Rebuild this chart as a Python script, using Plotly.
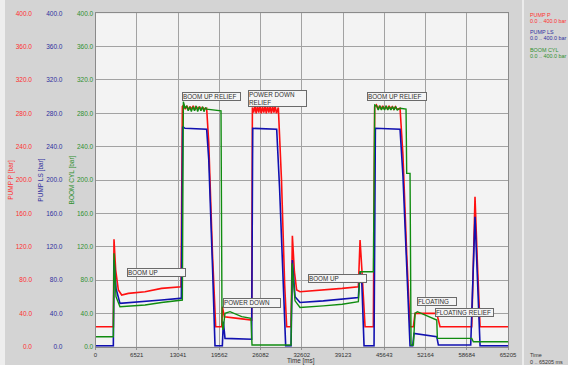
import plotly.graph_objects as go

# ---------------------------------------------------------------- data
# PUMP P [bar]
t_pump_p = [
    0, 2820, 2925, 3190, 3610, 4140, 5200, 7830, 10450, 13360, 13520,
    13730, 13950, 14200, 14450, 14700, 14950, 15200, 15450, 15700, 15950, 16200, 16450, 16700, 16950, 17200, 17570,
    17900, 18500, 19000, 19950, 20050, 20370, 22500, 24690,
    24800, 25000, 25200, 25400, 25600, 25800, 26000, 26200, 26400, 26600, 26800, 27000, 27200, 27400, 27600, 27800,
    28000, 28200, 28400, 28600, 28900,
    29400, 29900, 30220, 30910, 31120, 31440, 31800, 32330, 36000, 39000, 41550,
    41820, 42130, 42610, 43920,
    44130, 44400, 44650, 44900, 45150, 45400, 45650, 45900, 46150, 46400, 46650, 46900, 47150, 47400, 47650, 48140,
    48600, 49200, 49720, 50250, 50510, 53940, 54460, 59470, 59730, 59990, 60370, 60790, 65205,
]
pump_p = [
    24, 24, 129, 92, 68, 62, 64, 66, 70, 72, 72,
    288, 290, 285, 289, 284, 288, 285, 289, 284, 288, 285, 288, 284, 287, 285, 286,
    245, 110, 24, 24, 48, 36, 34, 32,
    287, 281, 289, 280, 289, 281, 289, 280, 288, 281, 289, 280, 289, 281, 288, 280,
    289, 281, 289, 280, 287,
    200, 75, 24, 24, 133, 90, 68, 66, 68, 70, 72,
    128, 90, 24, 24,
    288, 290, 285, 289, 285, 289, 285, 288, 285, 289, 285, 288, 285, 288, 285, 286,
    230, 110, 24, 24, 40, 40, 24, 24, 120, 180, 100, 24, 24,
]

# PUMP LS [bar]
t_pump_ls = [
    0, 2820, 2925, 3240, 3870, 7830, 10450, 13360, 13570, 13780, 14150, 17570,
    17900, 18500, 18890, 20050, 20210, 20470, 24690, 24850, 28640, 29100, 29700, 30060,
    30910, 31120, 31540, 32330, 36000, 39000, 41550, 41820, 42080, 42450, 44030, 44240,
    48140, 48600, 49200, 49720, 50140, 50350, 53940, 54200, 59310, 59990, 60790, 65205,
]
pump_ls = [
    1, 1, 104, 70, 52, 54, 56, 58, 58, 264, 262, 261,
    225, 95, 1, 1, 30, 10, 9, 262, 261, 190, 60, 1,
    1, 104, 60, 53, 55, 57, 59, 90, 80, 1, 1, 262,
    261, 205, 85, 1, 1, 16, 12, 2, 2, 156, 1, 1,
]

# BOOM CYL [bar]
t_boom_cyl = [
    0, 2820, 2925, 3240, 3870, 7830, 10450, 13360, 13730, 13890,
    14150, 14400, 14650, 14900, 15150, 15400, 15650, 15900, 16150, 16400, 16650, 16900, 17150, 17400, 17570,
    19840, 20000, 20160, 20470, 21260, 23110, 24580, 24740, 30910, 31070, 31540, 32330, 36000, 39000, 41550, 41820, 43920,
    44130, 44450, 44700, 44950, 45200, 45450, 45700, 45950, 46200, 46450, 46700, 46950, 47200, 47450, 47700, 48140,
    49090, 49190, 49720, 49880, 50250, 50510, 50880, 53940, 54040, 59470, 59730, 65205,
]
boom_cyl = [
    12, 12, 112, 60, 48, 50, 53, 56, 56, 294,
    286, 289, 283, 288, 282, 288, 283, 289, 282, 288, 283, 288, 282, 287, 285,
    283, 30, 20, 40, 42, 36, 34, 2, 2, 100, 55, 47, 49, 51, 54, 90, 90,
    290, 289, 284, 289, 284, 288, 284, 289, 284, 288, 284, 288, 284, 288, 284, 286,
    285, 208, 208, 2, 2, 40, 42, 32, 10, 10, 6, 6,
]

time_ticks = [0, 6521, 13041, 19562, 26082, 32602, 39123, 45643, 52164, 58684, 65205]
time_tick_labels = ["0", "6521", "13041", "19562", "26082", "32602", "39123", "45643", "52164", "58684", "65205"]
bar_ticks = [0, 40, 80, 120, 160, 200, 240, 280, 320, 360, 400]
bar_tick_labels = ["0.0", "40.0", "80.0", "120.0", "160.0", "200.0", "240.0", "280.0", "320.0", "360.0", "400.0"]

# event markers: (text, time [ms], pressure [bar], box width px, box height px)
events = [
    ("BOOM UP", 5027, 94.8, 57, 7),
    ("BOOM UP RELIEF", 13626, 306, 57, 7),
    ("POWER DOWN<br>RELIEF", 24058, 308, 57, 15),
    ("POWER DOWN", 20201, 58, 56, 8),
    ("BOOM UP", 33637, 86.9, 57, 7),
    ("BOOM UP RELIEF", 42869, 305.3, 58, 7),
    ("FLOATING", 50772, 60, 38, 7),
    ("FLOATING RELIEF", 53665, 46.1, 57, 7),
]

# ---------------------------------------------------------------- styling
W, H = 568, 365
RED, BLUE, GREEN = "#ff1010", "#1010b0", "#108c10"
RED_T, BLUE_T, GREEN_T = "#ff3030", "#3030a0", "#309030"
FONT = "Liberation Sans, Arial, sans-serif"
X0, X1 = 95.5, 508.0          # plot area, px from left
YT, YB = 13.3, 346.7          # plot area, px from top


def px_x(p):
    return p / W


def px_y(p):
    return 1 - p / H


fig = go.Figure()
fig.add_trace(go.Scatter(x=t_pump_p, y=pump_p, mode="lines", name="PUMP P",
                         line=dict(color=RED, width=1.6), yaxis="y"))
fig.add_trace(go.Scatter(x=t_pump_ls, y=pump_ls, mode="lines", name="PUMP LS",
                         line=dict(color=BLUE, width=1.6), yaxis="y2"))
fig.add_trace(go.Scatter(x=t_boom_cyl, y=boom_cyl, mode="lines", name="BOOM CYL",
                         line=dict(color=GREEN, width=1.4), yaxis="y3"))

common_y = dict(range=[0, 400], tickvals=bar_ticks, ticktext=bar_tick_labels,
                ticks="", zeroline=False, automargin=False, fixedrange=True)

fig.update_layout(
    width=W, height=H,
    margin=dict(l=0, r=0, t=0, b=0),
    paper_bgcolor="#d4d4d4",
    plot_bgcolor="#f3f3f3",
    showlegend=False,
    font=dict(family=FONT, size=7, color="#333333"),
    xaxis=dict(
        domain=[px_x(X0), px_x(X1)], range=[0, 65205], anchor="y",
        tickvals=time_ticks, ticktext=time_tick_labels,
        tickfont=dict(size=6, color="#333333"),
        ticks="outside", ticklen=2, tickcolor="#909090",
        showgrid=True, gridcolor="#a2a2a2", gridwidth=1,
        showline=True, linecolor="#8a8a8a", mirror=True,
        zeroline=False, automargin=False,
    ),
    yaxis=dict(
        **common_y, domain=[px_y(YB), px_y(YT)], anchor="free", position=px_x(32),
        tickfont=dict(size=6.5, color=RED_T),
        showgrid=True, gridcolor="#a2a2a2", gridwidth=1, showline=False,
        title=dict(text="PUMP P [bar]", font=dict(size=6.5, color=RED_T), standoff=0),
    ),
    yaxis2=dict(
        **common_y, overlaying="y", anchor="free", position=px_x(62.5), side="left",
        tickfont=dict(size=6.5, color=BLUE_T),
        showgrid=False, showline=False,
        title=dict(text="PUMP LS [bar]", font=dict(size=6.5, color=BLUE_T), standoff=0),
    ),
    yaxis3=dict(
        **common_y, overlaying="y", anchor="x", side="left",
        tickfont=dict(size=6.5, color=GREEN_T),
        showgrid=False, showline=True, linecolor="#8a8a8a", mirror=True,
        title=dict(text="BOOM CYL [bar]", font=dict(size=6.5, color=GREEN_T), standoff=1),
    ),
)

annotations = []
for text, t, p, bw, bh in events:
    annotations.append(dict(
        x=t, y=p, xref="x", yref="y", text=text, showarrow=False,
        xanchor="left", yanchor="top", align="left", valign="top",
        width=bw, height=bh, bgcolor="#f4f4f4", bordercolor="#6a6a6a",
        borderwidth=1, borderpad=0, font=dict(size=6.3, color="#303030"),
    ))

# time axis caption
annotations.append(dict(
    x=px_x(301), y=px_y(361), xref="paper", yref="paper", text="Time [ms]",
    showarrow=False, xanchor="center", yanchor="middle",
    font=dict(size=6.3, color="#333333"),
))

# channel list on the right-hand side
side_x = px_x(528)
channel_rows = [
    ("PUMP P", 15, RED_T), ("0.0 .. 400.0 bar", 21, RED_T),
    ("PUMP LS", 32, BLUE_T), ("0.0 .. 400.0 bar", 38, BLUE_T),
    ("BOOM CYL", 50, GREEN_T), ("0.0 .. 400.0 bar", 56, GREEN_T),
    ("Time", 355, "#333333"), ("0 .. 65205 ms", 361.5, "#333333"),
]
for text, ypx, col in channel_rows:
    annotations.append(dict(
        x=side_x, y=px_y(ypx), xref="paper", yref="paper", text=text,
        showarrow=False, xanchor="left", yanchor="middle",
        font=dict(size=5.4, color=col),
    ))
fig.update_layout(annotations=annotations)

fig.update_layout(shapes=[
    dict(type="rect", xref="paper", yref="paper", x0=0, x1=px_x(5), y0=0, y1=1,
         fillcolor="#eeeeee", line=dict(width=0), layer="below"),
    dict(type="line", xref="paper", yref="paper", x0=px_x(523), x1=px_x(523), y0=0, y1=1,
         line=dict(color="#ececec", width=2), layer="below"),
])

fig.write_html("out.html")
